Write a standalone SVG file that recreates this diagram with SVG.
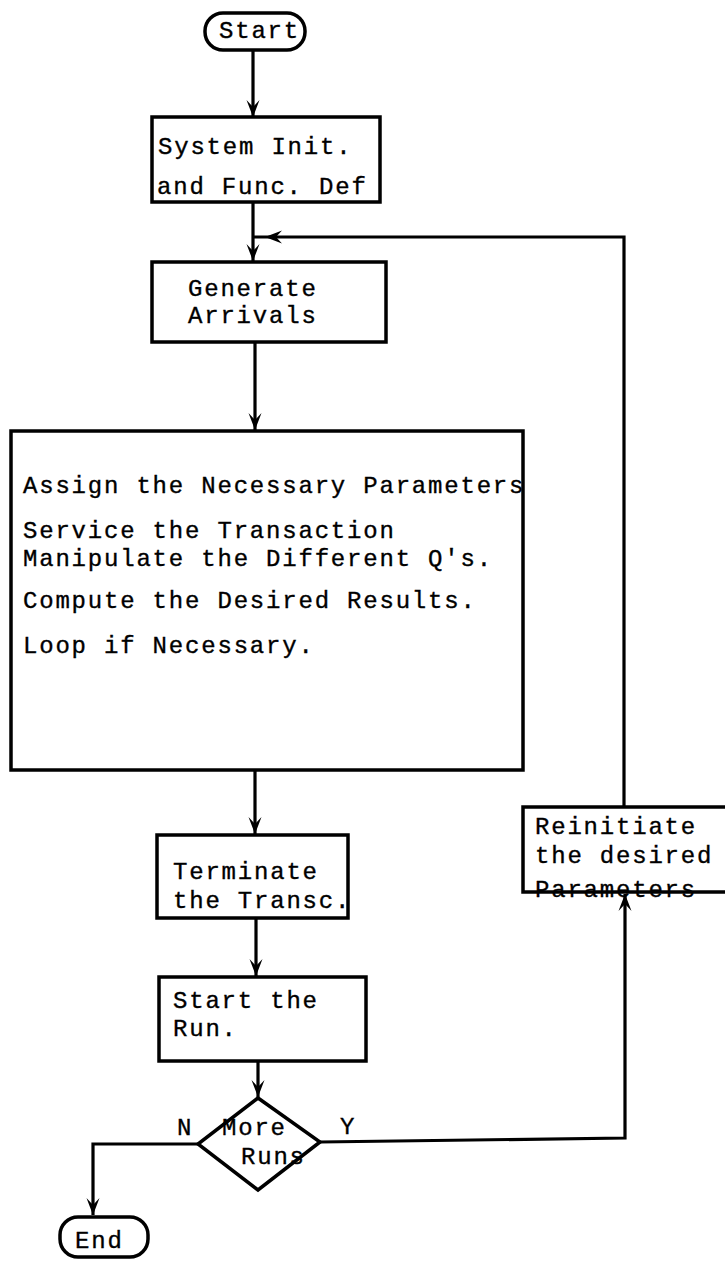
<svg xmlns="http://www.w3.org/2000/svg" width="725" height="1261" viewBox="0 0 725 1261">
  <style>
    .box { fill: #fff; stroke: #000; stroke-width: 3.5; }
    .line { fill: none; stroke: #000; stroke-width: 3.2; }
    .lbl { font-family: "Liberation Mono", "Courier New", monospace; font-size: 24px; letter-spacing: 1.8px; fill: #000; stroke: #000; stroke-width: 0.35; }
  </style>
  <defs>
    <marker id="arrow" viewBox="-18 -8 20 16" markerWidth="20" markerHeight="16" refX="0" refY="0" orient="auto" markerUnits="userSpaceOnUse">
      <path d="M0,0 L-17,-6.5 L-10,0 L-17,6.5 Z" fill="#000"/>
    </marker>
  </defs>

  <!-- connectors -->
  <g id="connectors">
    <path class="line" d="M253,50 V117" marker-end="url(#arrow)"/>
    <path class="line" d="M253,202 V261" marker-end="url(#arrow)"/>
    <path class="line" d="M624,807 V237 H253"/>
    <path d="M265,237 L282,230.5 L276,237 L282,243.5 Z" fill="#000"/>
    <path class="line" d="M255,342 V430" marker-end="url(#arrow)"/>
    <path class="line" d="M255,770 V834" marker-end="url(#arrow)"/>
    <path class="line" d="M256,918 V976" marker-end="url(#arrow)"/>
    <path class="line" d="M258,1061 V1097" marker-end="url(#arrow)"/>
    <path class="line" d="M198,1144 H93 V1215" marker-end="url(#arrow)"/>
    <path class="line" d="M320,1142 L625,1138 V894" marker-end="url(#arrow)"/>
  </g>

  <g id="start">
    <rect class="box" x="205" y="13" width="100" height="37" rx="18"/>
    <text class="lbl" x="219" y="38">Start</text>
  </g>

  <g id="system-init">
    <rect class="box" x="152" y="117" width="228" height="85"/>
    <text class="lbl" x="158" y="154">System Init.</text>
    <text class="lbl" x="157" y="194">and Func. Def</text>
  </g>

  <g id="generate-arrivals">
    <rect class="box" x="152" y="262" width="234" height="80"/>
    <text class="lbl" x="188" y="296">Generate</text>
    <text class="lbl" x="188" y="323">Arrivals</text>
  </g>

  <g id="process">
    <rect class="box" x="11" y="431" width="512" height="339"/>
    <text class="lbl" x="23" y="493">Assign the Necessary Parameters</text>
    <text class="lbl" x="23" y="538">Service the Transaction</text>
    <text class="lbl" x="23" y="566">Manipulate the Different Q's.</text>
    <text class="lbl" x="23" y="608">Compute the Desired Results.</text>
    <text class="lbl" x="23" y="653">Loop if Necessary.</text>
  </g>

  <g id="terminate">
    <rect class="box" x="157" y="835" width="191" height="83"/>
    <text class="lbl" x="173" y="879">Terminate</text>
    <text class="lbl" x="173" y="908">the Transc.</text>
  </g>

  <g id="start-run">
    <rect class="box" x="159" y="977" width="207" height="84"/>
    <text class="lbl" x="173" y="1008">Start the</text>
    <text class="lbl" x="173" y="1036">Run.</text>
  </g>

  <g id="more-runs">
    <path class="box" d="M258,1098 L320,1142 L258,1190 L198,1144 Z"/>
    <text class="lbl" x="222" y="1135">More</text>
    <text class="lbl" x="241" y="1164">Runs</text>
    <text class="lbl" x="177" y="1135">N</text>
    <text class="lbl" x="340" y="1134">Y</text>
  </g>

  <g id="reinitiate">
    <text class="lbl" x="535" y="834">Reinitiate</text>
    <text class="lbl" x="535" y="863">the desired</text>
    <text class="lbl" x="535" y="897">Parameters</text>
    <path class="line" style="stroke-width:3.5" d="M740,807 H523 V892 H740"/>
  </g>

  <g id="end">
    <rect class="box" x="60" y="1217" width="88" height="40" rx="18"/>
    <text class="lbl" x="75" y="1248">End</text>
  </g>
</svg>
